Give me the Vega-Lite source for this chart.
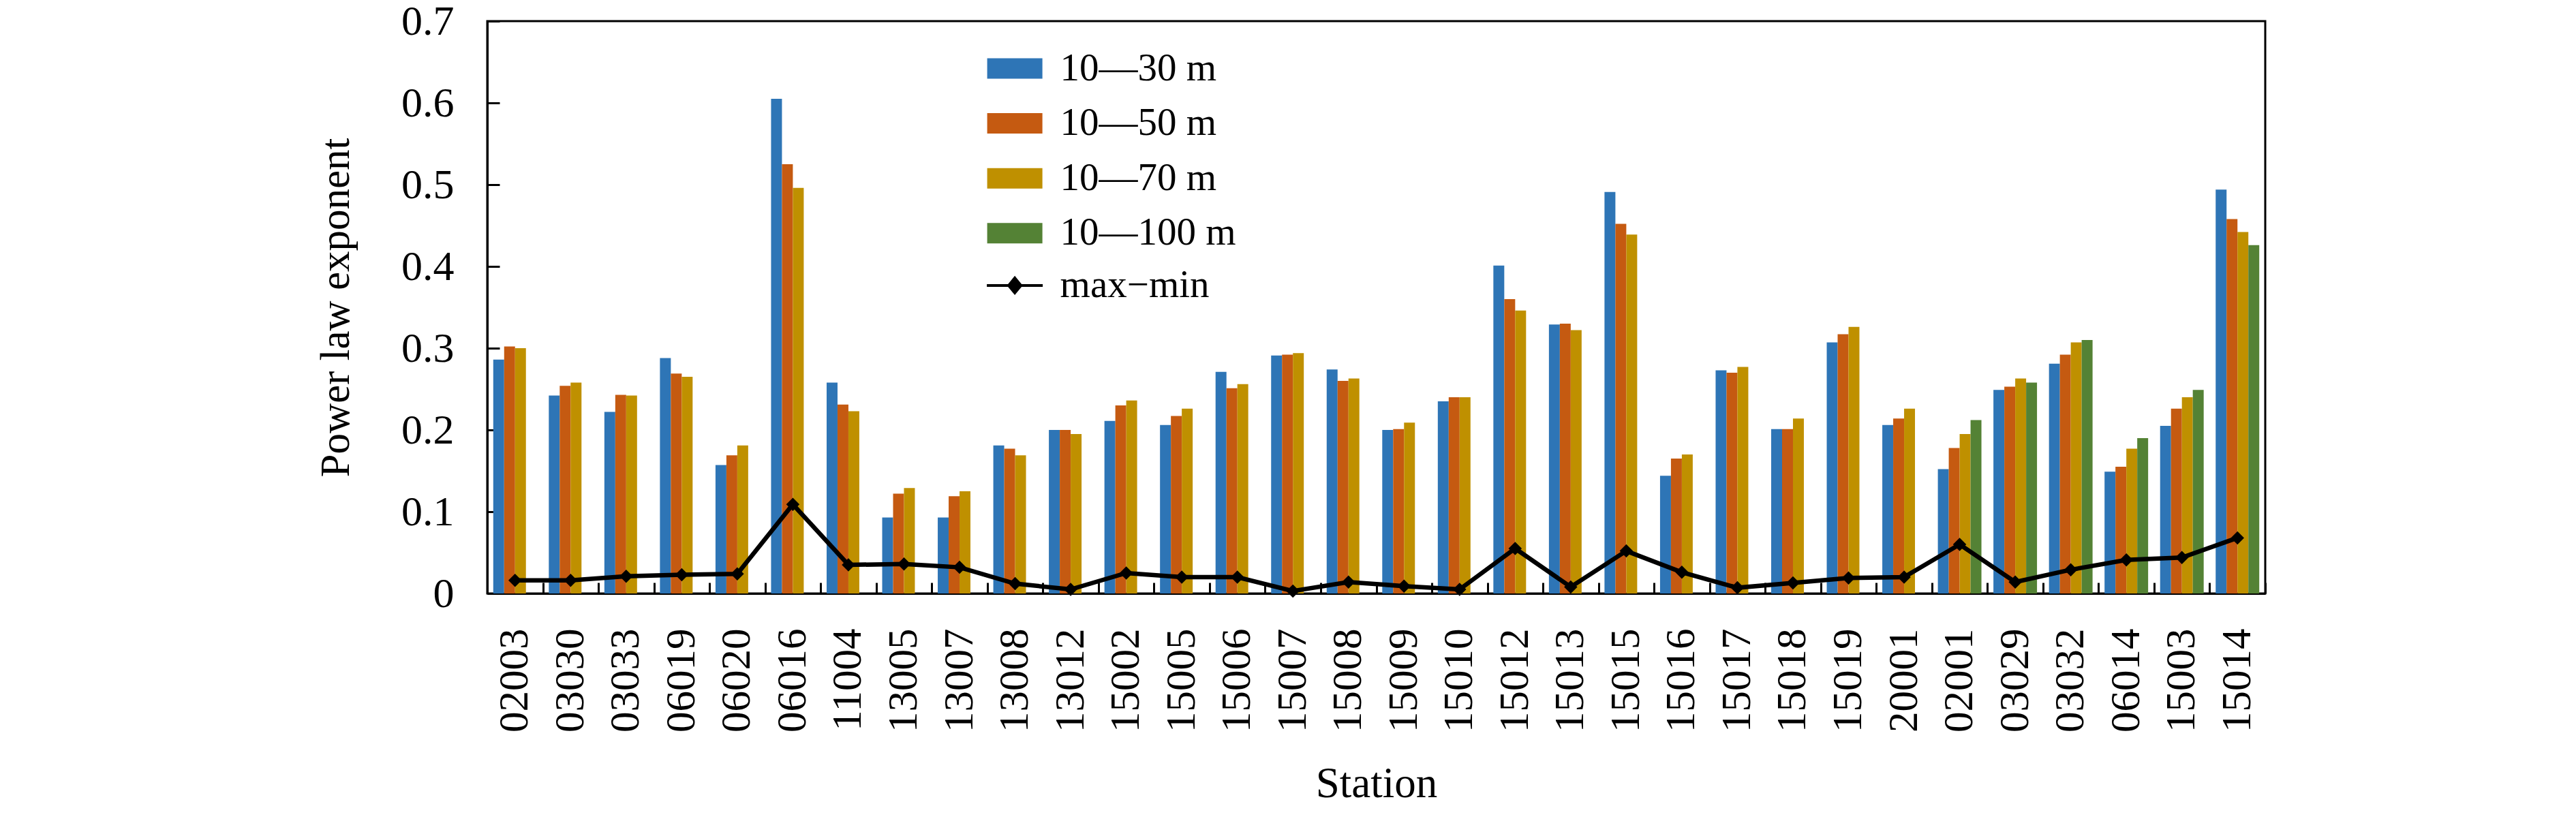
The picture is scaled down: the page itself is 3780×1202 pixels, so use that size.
{
  "$schema": "https://vega.github.io/schema/vega-lite/v6.json",
  "width": 2609,
  "height": 840,
  "autosize": "none",
  "padding": {"left": 715, "top": 31, "right": 456, "bottom": 331},
  "background": "white",
  "config": {
    "font": "Liberation Serif",
    "view": {"stroke": "black", "strokeWidth": 3}
  },
  "datasets": {
    "bars": [
      {"station": "02003", "series": "10—30 m", "value": 0.286},
      {"station": "02003", "series": "10—50 m", "value": 0.302},
      {"station": "02003", "series": "10—70 m", "value": 0.300},
      {"station": "03030", "series": "10—30 m", "value": 0.242},
      {"station": "03030", "series": "10—50 m", "value": 0.254},
      {"station": "03030", "series": "10—70 m", "value": 0.258},
      {"station": "03033", "series": "10—30 m", "value": 0.222},
      {"station": "03033", "series": "10—50 m", "value": 0.243},
      {"station": "03033", "series": "10—70 m", "value": 0.242},
      {"station": "06019", "series": "10—30 m", "value": 0.288},
      {"station": "06019", "series": "10—50 m", "value": 0.269},
      {"station": "06019", "series": "10—70 m", "value": 0.265},
      {"station": "06020", "series": "10—30 m", "value": 0.157},
      {"station": "06020", "series": "10—50 m", "value": 0.169},
      {"station": "06020", "series": "10—70 m", "value": 0.181},
      {"station": "06016", "series": "10—30 m", "value": 0.605},
      {"station": "06016", "series": "10—50 m", "value": 0.525},
      {"station": "06016", "series": "10—70 m", "value": 0.496},
      {"station": "11004", "series": "10—30 m", "value": 0.258},
      {"station": "11004", "series": "10—50 m", "value": 0.231},
      {"station": "11004", "series": "10—70 m", "value": 0.223},
      {"station": "13005", "series": "10—30 m", "value": 0.093},
      {"station": "13005", "series": "10—50 m", "value": 0.122},
      {"station": "13005", "series": "10—70 m", "value": 0.129},
      {"station": "13007", "series": "10—30 m", "value": 0.093},
      {"station": "13007", "series": "10—50 m", "value": 0.119},
      {"station": "13007", "series": "10—70 m", "value": 0.125},
      {"station": "13008", "series": "10—30 m", "value": 0.181},
      {"station": "13008", "series": "10—50 m", "value": 0.177},
      {"station": "13008", "series": "10—70 m", "value": 0.169},
      {"station": "13012", "series": "10—30 m", "value": 0.200},
      {"station": "13012", "series": "10—50 m", "value": 0.200},
      {"station": "13012", "series": "10—70 m", "value": 0.195},
      {"station": "15002", "series": "10—30 m", "value": 0.211},
      {"station": "15002", "series": "10—50 m", "value": 0.230},
      {"station": "15002", "series": "10—70 m", "value": 0.236},
      {"station": "15005", "series": "10—30 m", "value": 0.206},
      {"station": "15005", "series": "10—50 m", "value": 0.217},
      {"station": "15005", "series": "10—70 m", "value": 0.226},
      {"station": "15006", "series": "10—30 m", "value": 0.271},
      {"station": "15006", "series": "10—50 m", "value": 0.251},
      {"station": "15006", "series": "10—70 m", "value": 0.256},
      {"station": "15007", "series": "10—30 m", "value": 0.291},
      {"station": "15007", "series": "10—50 m", "value": 0.292},
      {"station": "15007", "series": "10—70 m", "value": 0.294},
      {"station": "15008", "series": "10—30 m", "value": 0.274},
      {"station": "15008", "series": "10—50 m", "value": 0.260},
      {"station": "15008", "series": "10—70 m", "value": 0.263},
      {"station": "15009", "series": "10—30 m", "value": 0.200},
      {"station": "15009", "series": "10—50 m", "value": 0.201},
      {"station": "15009", "series": "10—70 m", "value": 0.209},
      {"station": "15010", "series": "10—30 m", "value": 0.235},
      {"station": "15010", "series": "10—50 m", "value": 0.240},
      {"station": "15010", "series": "10—70 m", "value": 0.240},
      {"station": "15012", "series": "10—30 m", "value": 0.401},
      {"station": "15012", "series": "10—50 m", "value": 0.360},
      {"station": "15012", "series": "10—70 m", "value": 0.346},
      {"station": "15013", "series": "10—30 m", "value": 0.329},
      {"station": "15013", "series": "10—50 m", "value": 0.330},
      {"station": "15013", "series": "10—70 m", "value": 0.322},
      {"station": "15015", "series": "10—30 m", "value": 0.491},
      {"station": "15015", "series": "10—50 m", "value": 0.452},
      {"station": "15015", "series": "10—70 m", "value": 0.439},
      {"station": "15016", "series": "10—30 m", "value": 0.144},
      {"station": "15016", "series": "10—50 m", "value": 0.165},
      {"station": "15016", "series": "10—70 m", "value": 0.170},
      {"station": "15017", "series": "10—30 m", "value": 0.273},
      {"station": "15017", "series": "10—50 m", "value": 0.270},
      {"station": "15017", "series": "10—70 m", "value": 0.277},
      {"station": "15018", "series": "10—30 m", "value": 0.201},
      {"station": "15018", "series": "10—50 m", "value": 0.201},
      {"station": "15018", "series": "10—70 m", "value": 0.214},
      {"station": "15019", "series": "10—30 m", "value": 0.307},
      {"station": "15019", "series": "10—50 m", "value": 0.317},
      {"station": "15019", "series": "10—70 m", "value": 0.326},
      {"station": "20001", "series": "10—30 m", "value": 0.206},
      {"station": "20001", "series": "10—50 m", "value": 0.214},
      {"station": "20001", "series": "10—70 m", "value": 0.226},
      {"station": "02001", "series": "10—30 m", "value": 0.152},
      {"station": "02001", "series": "10—50 m", "value": 0.178},
      {"station": "02001", "series": "10—70 m", "value": 0.195},
      {"station": "02001", "series": "10—100 m", "value": 0.212},
      {"station": "03029", "series": "10—30 m", "value": 0.249},
      {"station": "03029", "series": "10—50 m", "value": 0.253},
      {"station": "03029", "series": "10—70 m", "value": 0.263},
      {"station": "03029", "series": "10—100 m", "value": 0.258},
      {"station": "03032", "series": "10—30 m", "value": 0.281},
      {"station": "03032", "series": "10—50 m", "value": 0.292},
      {"station": "03032", "series": "10—70 m", "value": 0.307},
      {"station": "03032", "series": "10—100 m", "value": 0.310},
      {"station": "06014", "series": "10—30 m", "value": 0.149},
      {"station": "06014", "series": "10—50 m", "value": 0.155},
      {"station": "06014", "series": "10—70 m", "value": 0.177},
      {"station": "06014", "series": "10—100 m", "value": 0.190},
      {"station": "15003", "series": "10—30 m", "value": 0.205},
      {"station": "15003", "series": "10—50 m", "value": 0.226},
      {"station": "15003", "series": "10—70 m", "value": 0.240},
      {"station": "15003", "series": "10—100 m", "value": 0.249},
      {"station": "15014", "series": "10—30 m", "value": 0.494},
      {"station": "15014", "series": "10—50 m", "value": 0.458},
      {"station": "15014", "series": "10—70 m", "value": 0.442},
      {"station": "15014", "series": "10—100 m", "value": 0.426}
    ],
    "range": [
      {"station": "02003", "maxmin": 0.016},
      {"station": "03030", "maxmin": 0.016},
      {"station": "03033", "maxmin": 0.021},
      {"station": "06019", "maxmin": 0.023},
      {"station": "06020", "maxmin": 0.024},
      {"station": "06016", "maxmin": 0.109},
      {"station": "11004", "maxmin": 0.035},
      {"station": "13005", "maxmin": 0.036},
      {"station": "13007", "maxmin": 0.032},
      {"station": "13008", "maxmin": 0.012},
      {"station": "13012", "maxmin": 0.005},
      {"station": "15002", "maxmin": 0.025},
      {"station": "15005", "maxmin": 0.020},
      {"station": "15006", "maxmin": 0.020},
      {"station": "15007", "maxmin": 0.003},
      {"station": "15008", "maxmin": 0.014},
      {"station": "15009", "maxmin": 0.009},
      {"station": "15010", "maxmin": 0.005},
      {"station": "15012", "maxmin": 0.055},
      {"station": "15013", "maxmin": 0.008},
      {"station": "15015", "maxmin": 0.052},
      {"station": "15016", "maxmin": 0.026},
      {"station": "15017", "maxmin": 0.007},
      {"station": "15018", "maxmin": 0.013},
      {"station": "15019", "maxmin": 0.019},
      {"station": "20001", "maxmin": 0.020},
      {"station": "02001", "maxmin": 0.060},
      {"station": "03029", "maxmin": 0.014},
      {"station": "03032", "maxmin": 0.029},
      {"station": "06014", "maxmin": 0.041},
      {"station": "15003", "maxmin": 0.044},
      {"station": "15014", "maxmin": 0.068}
    ]
  },
  "layer": [
    {
      "data": {"name": "bars"},
      "mark": {"type": "bar"},
      "encoding": {
        "x": {
          "field": "station",
          "type": "nominal",
          "title": "Station",
          "scale": {
            "domain": ["02003","03030","03033","06019","06020","06016","11004","13005","13007","13008","13012","15002","15005","15006","15007","15008","15009","15010","15012","15013","15015","15016","15017","15018","15019","20001","02001","03029","03032","06014","15003","15014"],
            "paddingInner": 0,
            "paddingOuter": 0
          },
          "axis": {
            "labelAngle": 270,
            "labelFontSize": 61,
            "labelColor": "black",
            "labelPadding": 67,
            "tickSize": -16,
            "tickWidth": 3,
            "tickColor": "black",
            "tickBand": "extent",
            "domainColor": "black",
            "domainWidth": 3,
            "grid": false,
            "titleFontSize": 63,
            "titleFontWeight": "normal",
            "titleColor": "black",
            "titlePadding": 48
          }
        },
        "xOffset": {
          "field": "series",
          "type": "nominal",
          "scale": {
            "domain": ["10—30 m", "10—50 m", "10—70 m", "10—100 m"],
            "paddingInner": 0,
            "paddingOuter": 0.55
          }
        },
        "y": {
          "field": "value",
          "type": "quantitative",
          "title": "Power law exponent",
          "scale": {"domain": [0, 0.7], "nice": false},
          "axis": {
            "values": [0, 0.1, 0.2, 0.3, 0.4, 0.5, 0.6, 0.7],
            "format": "~g",
            "labelFontSize": 62,
            "labelColor": "black",
            "labelPadding": 67,
            "tickSize": -18,
            "tickWidth": 3,
            "tickColor": "black",
            "domainColor": "black",
            "domainWidth": 3,
            "grid": false,
            "titleFontSize": 61,
            "titleFontWeight": "normal",
            "titleColor": "black",
            "titlePadding": 64
          }
        },
        "color": {
          "field": "series",
          "type": "nominal",
          "scale": {
            "domain": ["10—30 m", "10—50 m", "10—70 m", "10—100 m"],
            "range": ["#2E75B6", "#C55A11", "#BF9000", "#548235"]
          },
          "legend": {
            "orient": "none",
            "legendX": 745.6,
            "legendY": 41,
            "title": null,
            "padding": 0,
            "symbolType": "M-2.47,-0.915H2.47V0.915H-2.47Z",
            "symbolSize": 1076,
            "symbolStrokeWidth": 0,
            "symbolOpacity": 1,
            "labelFontSize": 57,
            "labelColor": "black",
            "labelLimit": 0,
            "labelOffset": 38,
            "rowPadding": 22.6
          }
        }
      }
    },
    {
      "data": {"name": "range"},
      "mark": {"type": "line", "strokeWidth": 6.5},
      "encoding": {
        "x": {"field": "station", "type": "nominal"},
        "y": {"field": "maxmin", "type": "quantitative"},
        "stroke": {
          "datum": "max−min",
          "scale": {"range": ["black"]},
          "legend": {
            "orient": "none",
            "legendX": 745.6,
            "legendY": 359.4,
            "title": null,
            "padding": 0,
            "symbolType": "M-2.5,0H2.5M-0.55,0L0,-0.67L0.55,0L0,0.67Z",
            "symbolSize": 1076,
            "symbolStrokeWidth": 4,
            "symbolFillColor": "black",
            "symbolStrokeColor": "black",
            "labelFontSize": 57,
            "labelColor": "black",
            "labelLimit": 0,
            "labelOffset": 38,
            "encode": {"symbols": {"update": {"fill": {"value": "black"}, "stroke": {"value": "black"}}}}
          }
        }
      }
    },
    {
      "data": {"name": "range"},
      "mark": {"type": "point", "shape": "diamond", "filled": true, "color": "black", "size": 380, "opacity": 1},
      "encoding": {
        "x": {"field": "station", "type": "nominal"},
        "y": {"field": "maxmin", "type": "quantitative"}
      }
    }
  ]
}
